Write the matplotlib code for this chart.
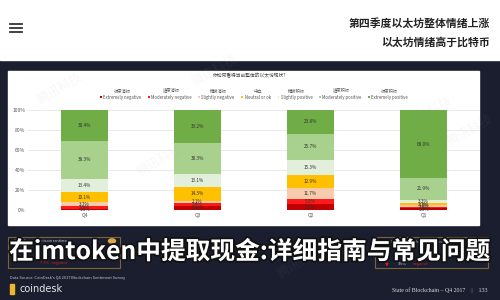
import matplotlib
matplotlib.use("Agg")
import matplotlib.pyplot as plt
import matplotlib.patheffects as pe
from matplotlib.patches import Rectangle, Circle
from matplotlib.lines import Line2D
import numpy as np

plt.rcParams['font.family'] = ['Noto Sans CJK SC', 'DejaVu Sans']

quarters = ['Q4', 'Q3', 'Q2', 'Q1']
series_en = ['Extremely negative', 'Moderately negative', 'Slightly negative',
             'Neutral or ok', 'Slightly positive', 'Moderately positive',
             'Extremely positive']
series_cn = ['极度消极', '适度消极', '稍微消极', '中立', '稍微积极', '适度积极', '极度积极']
colors = ['#c00000', '#ff1a1a', '#f8cbad', '#ffc000', '#e2efda', '#a9d18e', '#70ad47']

# share per quarter, bottom to top (Q4, Q3, Q2, Q1)
ext_neg = [1.5, 3.6, 5.6, 1.8]
mod_neg = [2.5, 3.4, 5.0, 1.6]
sli_neg = [3.7, 2.1, 11.7, 1.3]
neutral = [10.1, 14.3, 12.9, 2.1]
sli_pos = [13.4, 13.1, 15.3, 3.3]
mod_pos = [38.3, 30.3, 25.7, 21.9]
ext_pos = [30.4, 33.2, 23.8, 68.0]
values = [ext_neg, mod_neg, sli_neg, neutral, sli_pos, mod_pos, ext_pos]

W, H = 500, 300
fig = plt.figure(figsize=(5, 3), dpi=100)
navy = '#1b1e2f'


def px(x, y):
    return x / W, 1 - y / H


# backgrounds
fig.patches.append(Rectangle((0, 0), 1, 1, transform=fig.transFigure, color=navy, zorder=-10))
fig.patches.append(Rectangle(px(0, 60), 1, 60 / H, transform=fig.transFigure, color='white', zorder=-9))
fig.patches.append(Rectangle(px(8, 225), 471 / W, 154 / H, transform=fig.transFigure,
                             color='white', zorder=-9))

# header
for yy in (24, 28, 32):
    fig.lines.append(Line2D([10 / W, 22 / W], [1 - yy / H] * 2, transform=fig.transFigure,
                            color='#333333', lw=1.3))
fig.text(*px(490, 24), '第四季度以太坊整体情绪上涨', ha='right', va='center',
         fontsize=7.8, fontweight='bold', color='#222222')
fig.text(*px(490, 42), '以太坊情绪高于比特币', ha='right', va='center',
         fontsize=7.8, fontweight='bold', color='#222222')

# chart
ax = fig.add_axes([28 / W, 1 - 210 / H, 452 / W, 100 / H])
x = np.arange(len(quarters))
bottom = np.zeros(len(quarters))
for vals, c, lab in zip(values, colors, series_en):
    vals = np.array(vals)
    ax.bar(x, vals, 0.41, bottom=bottom, color=c, label=lab, zorder=3)
    for xi, b, v in zip(x, bottom, vals):
        ax.text(xi, b + v / 2, f'{v:.1f}%', ha='center', va='center',
                fontsize=3.4, color='#333333', zorder=4)
    bottom += vals

ax.set_xlim(-0.5, 3.5)
ax.set_ylim(0, 100)
ax.set_xticks(x)
ax.set_xticklabels(quarters, fontsize=3.6, color='#555555')
ax.set_yticks(range(0, 101, 20))
ax.set_yticklabels([f'{t}%' for t in range(0, 101, 20)], fontsize=3.6, color='#555555')
ax.tick_params(length=0, pad=2)
ax.grid(axis='y', color='#e6e6e6', lw=0.6, zorder=0)
for s in ax.spines.values():
    s.set_visible(False)
ax.set_facecolor('none')

fig.text(*px(250, 76), '你如何看待当前整体的以太坊现状?', ha='center', va='center',
         fontsize=3.4, color='#444444')
leg = ax.legend(ncol=7, loc='lower center', bbox_to_anchor=(0.5, 1.08), fontsize=3.1,
                frameon=False, handlelength=0.45, handleheight=0.45, columnspacing=1.6,
                handletextpad=0.25, borderpad=0)
for t in leg.get_texts():
    t.set_color('#555555')
fig.canvas.draw()
inv = fig.transFigure.inverted()
for t, cn in zip(leg.get_texts(), series_cn):
    bb = t.get_window_extent().transformed(inv)
    fig.text((bb.x0 + bb.x1) / 2, bb.y1 + 0.004, cn, ha='center', va='bottom',
             fontsize=3.1, color='#555555')

# lower boxes
gold = '#7a6630'
fig.patches.append(Rectangle(px(8, 268), 112 / W, 31 / H, transform=fig.transFigure,
                             fill=False, ec=gold, lw=0.8))
fig.patches.append(Rectangle(px(375, 268), 113 / W, 31 / H, transform=fig.transFigure,
                             fill=False, ec=gold, lw=0.8))
fig.patches.append(Circle(px(112, 241), 3.5 / W, transform=fig.transFigure,
                          color='#e0a84a'))
fig.text(*px(14, 241), 'Overall state of bitcoin sentiment', fontsize=2.6,
         color='#cccccc', va='center')
fig.text(*px(40, 263), '7.7%   negative', fontsize=2.8, color='#d02020', va='center')
fig.text(*px(380, 241), 'Q4 2017 State of Blockchain: ethereum sentiment', fontsize=2.4,
         color='#cccccc', va='center')
fig.text(*px(398, 264), '3.6%', fontsize=2.8, color='#dddddd', va='center')
fig.text(*px(413, 264), 'negative', fontsize=2.8, color='#d02020', va='center')
fig.text(*px(385, 264), '▼', fontsize=3.6, color='#e02020', va='center', family='DejaVu Sans')

fig.text(*px(10, 278), "Data Source: CoinDesk's Q4 2017 Blockchain Sentiment Survey",
         fontsize=2.8, color='#cccccc', va='center')
fig.patches.append(Rectangle(px(10, 294), 4 / W, 10 / H, transform=fig.transFigure,
                             color='#e8b830'))
fig.text(*px(20, 289), 'coindesk', fontsize=7, color='#e6e6e6', va='center',
         family='DejaVu Sans')
fig.text(*px(488, 290), 'State of Blockchain – Q4 2017    |    133', ha='right',
         va='center', fontsize=4.2, color='#dddddd', family='Liberation Serif')

# faint watermark
for wx, wy in [(60, 88), (215, 70), (470, 130), (160, 160), (300, 262), (430, 112)]:
    fig.text(*px(wx, wy), '腾讯科技', fontsize=9, color='#9aa0b0', alpha=0.08,
             rotation=30, ha='center', va='center')

# overlay title
fig.text(*px(250, 252), '在imtoken中提取现金:详细指南与常见问题', ha='center', va='center',
         fontsize=17.8, fontweight='heavy', color='white',
         path_effects=[pe.withStroke(linewidth=2.5, foreground='#111111')])

fig.savefig('out.png', dpi=100)
